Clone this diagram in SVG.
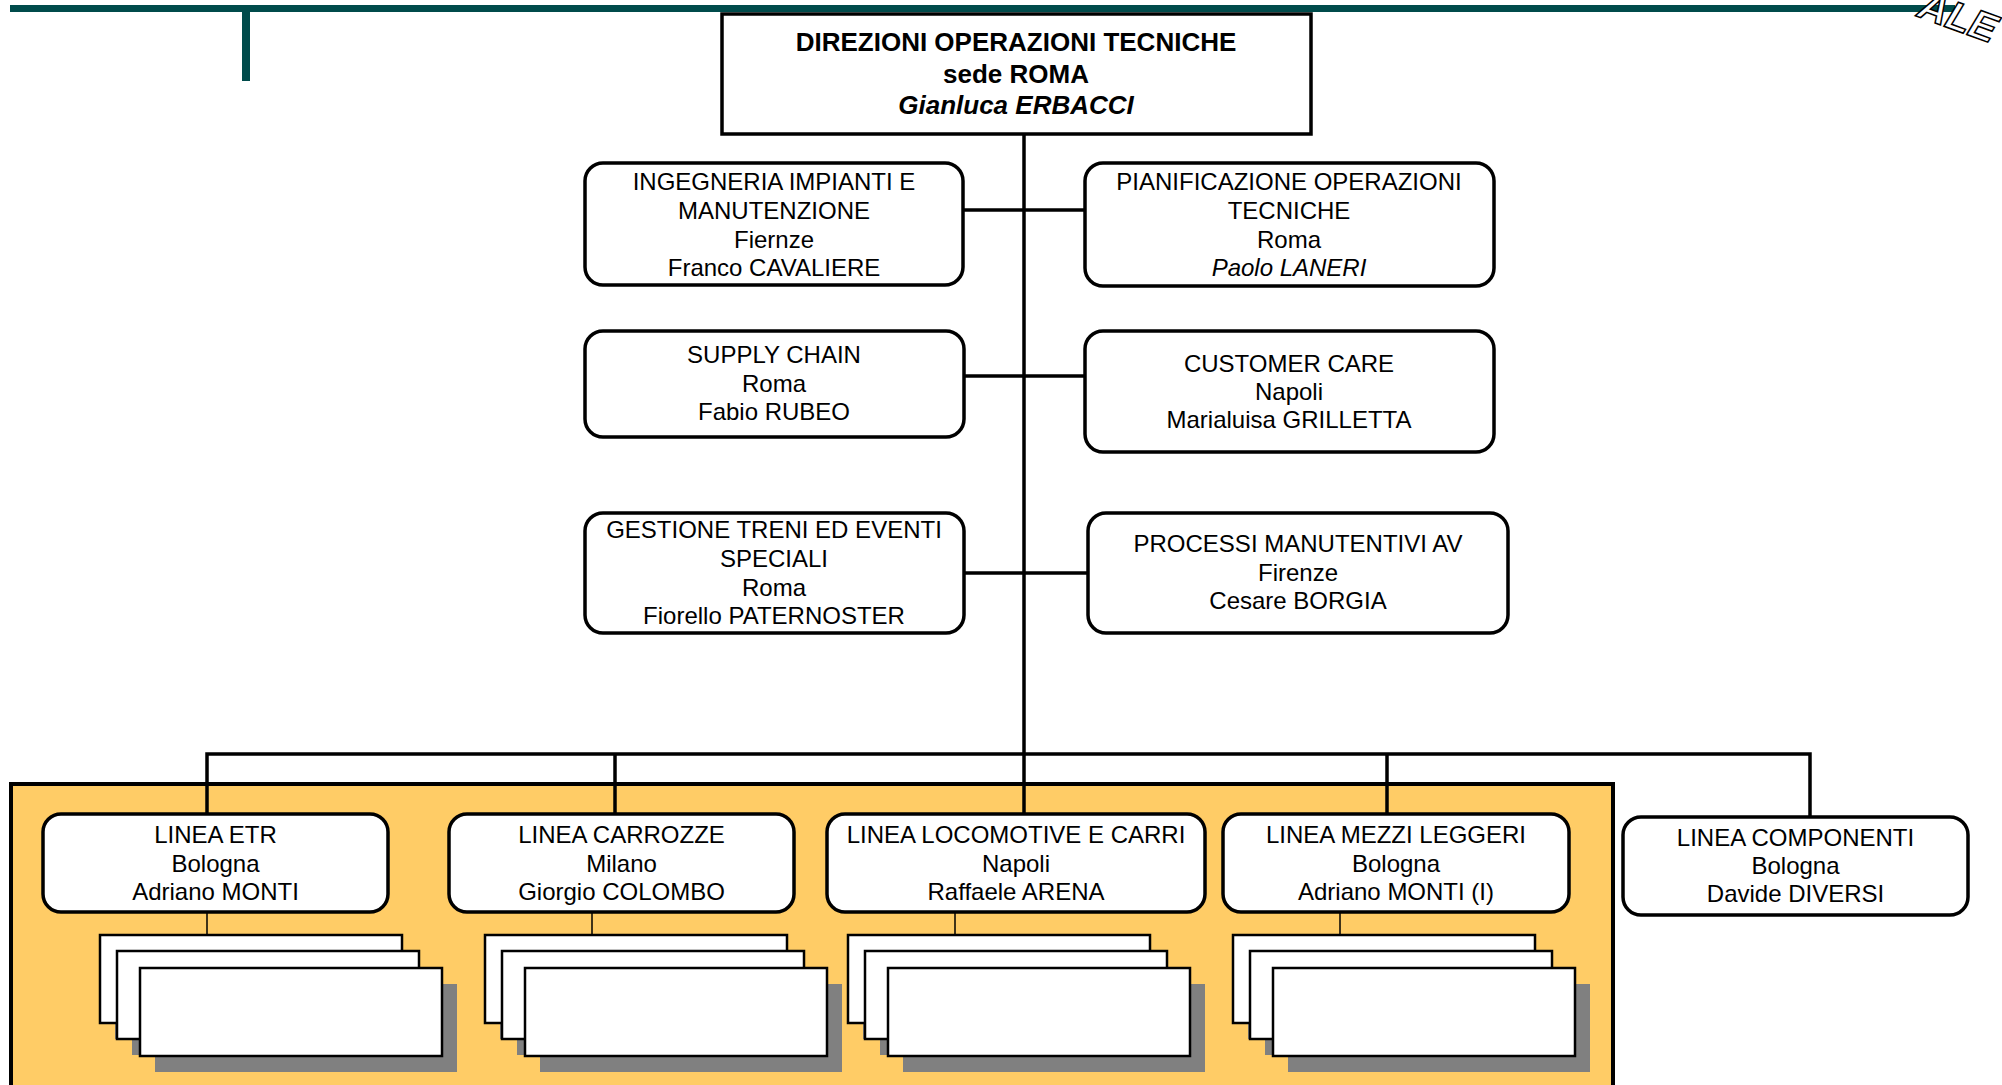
<svg xmlns="http://www.w3.org/2000/svg" width="2002" height="1085" viewBox="0 0 2002 1085">
<style>
  text { font-family: "Liberation Sans", Arial, sans-serif; font-size: 24px; fill: #000; text-anchor: middle; }
  .b { font-weight: bold; font-size: 26px; }
  .i { font-style: italic; }
  .box { fill: #fff; stroke: #000; stroke-width: 3.5; }
  .line { fill: none; stroke: #000; stroke-width: 3.5; }
  .thin { fill: none; stroke: #000; stroke-width: 1.5; }
  .sheet { fill: #fff; stroke: #000; stroke-width: 2.5; }
  .shadow { fill: #808080; }
  .logo { font-size: 40px; font-weight: bold; font-style: italic; fill: #fff; stroke: #000; stroke-width: 1.5; text-anchor: start; }
</style>
<defs>
  <g id="stack">
    <rect class="shadow" x="15" y="16" width="302" height="88"/>
    <rect class="sheet" x="0" y="0" width="302" height="88"/>
    <rect class="shadow" x="32" y="32" width="302" height="88"/>
    <rect class="sheet" x="17" y="16" width="302" height="88"/>
    <rect class="shadow" x="55" y="49" width="302" height="88"/>
    <rect class="sheet" x="40" y="33" width="302" height="88"/>
  </g>
</defs>
<rect x="0" y="0" width="2002" height="1085" fill="#fff"/>

<!-- header band -->
<g id="header">
  <rect x="10" y="5" width="1945" height="7" fill="#004B4B"/>
  <rect x="242" y="12" width="8" height="69" fill="#004B4B"/>
  <text class="logo" x="1916" y="16" transform="rotate(20 1916 16)">ALE</text>
</g>

<!-- orange panel -->
<rect id="panel" x="11" y="784" width="1602" height="320" fill="#FFCC66" stroke="#000" stroke-width="4"/>

<g id="connectors">
  <line class="line" x1="1024" y1="134" x2="1024" y2="754"/>
  <line class="line" x1="963" y1="210" x2="1085" y2="210"/>
  <line class="line" x1="963" y1="376" x2="1085" y2="376"/>
  <line class="line" x1="963" y1="573" x2="1088" y2="573"/>
  <polyline class="line" points="207,814 207,754 1810,754 1810,817"/>
  <line class="line" x1="615" y1="754" x2="615" y2="814"/>
  <line class="line" x1="1024" y1="754" x2="1024" y2="814"/>
  <line class="line" x1="1387" y1="754" x2="1387" y2="814"/>
  <line class="thin" x1="207" y1="912" x2="207" y2="936"/>
  <line class="thin" x1="592" y1="912" x2="592" y2="936"/>
  <line class="thin" x1="955" y1="912" x2="955" y2="936"/>
  <line class="thin" x1="1340" y1="912" x2="1340" y2="936"/>
</g>

<g id="direzione">
  <rect class="box" x="722" y="14" width="589" height="120"/>
  <text class="b" x="1016" y="51">DIREZIONI OPERAZIONI TECNICHE</text>
  <text class="b" x="1016" y="83">sede ROMA</text>
  <text class="b i" x="1016" y="114">Gianluca ERBACCI</text>
</g>

<g id="ingegneria">
  <rect class="box" x="585" y="163" width="378" height="122" rx="18"/>
  <text x="774" y="190">INGEGNERIA IMPIANTI E</text>
  <text x="774" y="219">MANUTENZIONE</text>
  <text x="774" y="248">Fiernze</text>
  <text x="774" y="276">Franco CAVALIERE</text>
</g>

<g id="pianificazione">
  <rect class="box" x="1085" y="163" width="409" height="123" rx="18"/>
  <text x="1289" y="190">PIANIFICAZIONE OPERAZIONI</text>
  <text x="1289" y="219">TECNICHE</text>
  <text x="1289" y="248">Roma</text>
  <text class="i" x="1289" y="276">Paolo LANERI</text>
</g>

<g id="supply">
  <rect class="box" x="585" y="331" width="379" height="106" rx="18"/>
  <text x="774" y="363">SUPPLY CHAIN</text>
  <text x="774" y="392">Roma</text>
  <text x="774" y="420">Fabio RUBEO</text>
</g>

<g id="customer">
  <rect class="box" x="1085" y="331" width="409" height="121" rx="18"/>
  <text x="1289" y="372">CUSTOMER CARE</text>
  <text x="1289" y="400">Napoli</text>
  <text x="1289" y="428">Marialuisa GRILLETTA</text>
</g>

<g id="gestione">
  <rect class="box" x="585" y="513" width="379" height="120" rx="18"/>
  <text x="774" y="538">GESTIONE TRENI ED EVENTI</text>
  <text x="774" y="567">SPECIALI</text>
  <text x="774" y="596">Roma</text>
  <text x="774" y="624">Fiorello PATERNOSTER</text>
</g>

<g id="processi">
  <rect class="box" x="1088" y="513" width="420" height="120" rx="18"/>
  <text x="1298" y="552">PROCESSI MANUTENTIVI AV</text>
  <text x="1298" y="581">Firenze</text>
  <text x="1298" y="609">Cesare BORGIA</text>
</g>

<g id="linea-etr">
  <rect class="box" x="43" y="814" width="345" height="98" rx="18"/>
  <text x="215.5" y="843">LINEA ETR</text>
  <text x="215.5" y="872">Bologna</text>
  <text x="215.5" y="900">Adriano MONTI</text>
  <use href="#stack" x="100" y="935"/>
</g>

<g id="linea-carrozze">
  <rect class="box" x="449" y="814" width="345" height="98" rx="18"/>
  <text x="621.5" y="843">LINEA CARROZZE</text>
  <text x="621.5" y="872">Milano</text>
  <text x="621.5" y="900">Giorgio COLOMBO</text>
  <use href="#stack" x="485" y="935"/>
</g>

<g id="linea-locomotive">
  <rect class="box" x="827" y="814" width="378" height="98" rx="18"/>
  <text x="1016" y="843">LINEA LOCOMOTIVE E CARRI</text>
  <text x="1016" y="872">Napoli</text>
  <text x="1016" y="900">Raffaele ARENA</text>
  <use href="#stack" x="848" y="935"/>
</g>

<g id="linea-mezzi">
  <rect class="box" x="1223" y="814" width="346" height="98" rx="18"/>
  <text x="1396" y="843">LINEA MEZZI LEGGERI</text>
  <text x="1396" y="872">Bologna</text>
  <text x="1396" y="900">Adriano MONTI (I)</text>
  <use href="#stack" x="1233" y="935"/>
</g>

<g id="linea-componenti">
  <rect class="box" x="1623" y="817" width="345" height="98" rx="18"/>
  <text x="1795.5" y="846">LINEA COMPONENTI</text>
  <text x="1795.5" y="874">Bologna</text>
  <text x="1795.5" y="902">Davide DIVERSI</text>
</g>
</svg>
